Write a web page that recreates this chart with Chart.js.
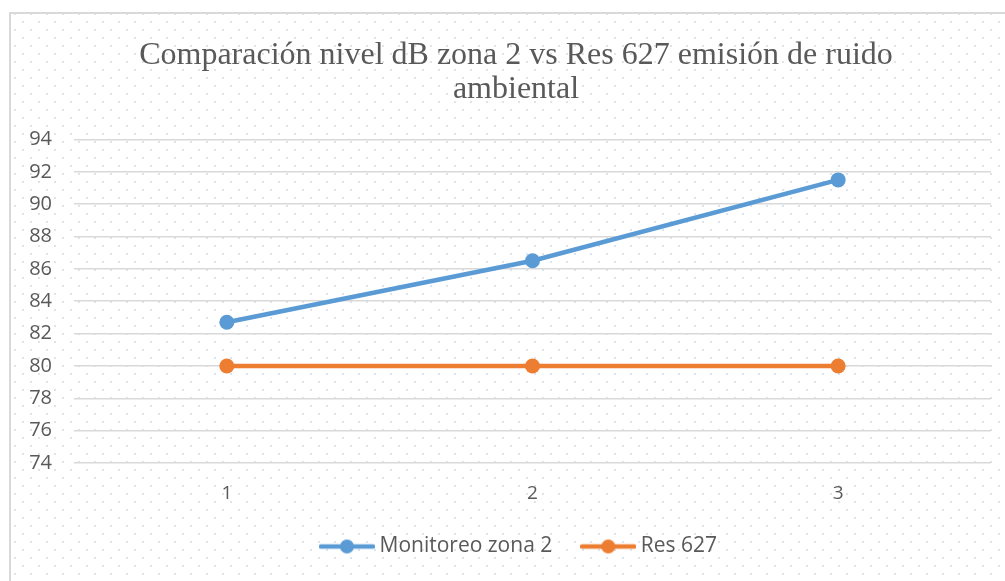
<!DOCTYPE html>
<html>
<head>
<meta charset="utf-8">
<script src="https://cdn.jsdelivr.net/npm/chart.js@4.4.1/dist/chart.umd.min.js"></script>
<style>
html,body{margin:0;padding:0;background:#fff;overflow:hidden;width:1005px;height:581px;}
#wrap{position:absolute;left:0;top:0;width:1030px;height:581px;}
</style>
</head>
<body>
<div id="wrap"><canvas id="c" width="1030" height="581"></canvas></div>
<script>
const categories = ["1", "2", "3"];
const monitoreoZona2 = [82.7, 86.5, 91.5];
const res627 = [80, 80, 80];
const titleLines = ["Comparación nivel dB zona 2 vs Res 627 emisión de ruido", "ambiental"];
const seriesNames = ["Monitoreo zona 2", "Res 627"];
const yMin = 74, yMax = 94, yStep = 2;

const BLUE = "#5B9BD5", ORANGE = "#ED7D31", TEXT = "#595959";

function legendMarker(color) {
  const c = document.createElement("canvas");
  c.width = 56; c.height = 16;
  const g = c.getContext("2d");
  g.strokeStyle = color; g.lineWidth = 4.5; g.lineCap = "round";
  g.beginPath(); g.moveTo(2, 8); g.lineTo(54, 8); g.stroke();
  g.fillStyle = color;
  g.beginPath(); g.arc(28, 8, 7, 0, Math.PI * 2); g.fill();
  return c;
}

const bgPlugin = {
  id: "bg",
  beforeDraw(chart) {
    const ctx = chart.ctx;
    const W = chart.width, H = chart.height;
    ctx.save();
    ctx.fillStyle = "#ffffff";
    ctx.fillRect(0, 0, W, H);
    ctx.fillStyle = "#dbe5f1";
    for (let y = 13, k = 0; y < H; y += 8, k++) {
      const x0 = (k % 2 === 0) ? 14 : 6;
      for (let x = x0; x < W; x += 16) {
        if (x < 11) continue;
        ctx.fillRect(x, y, 2, 2);
      }
    }
    ctx.fillStyle = "#d9d9d9";
    ctx.fillRect(9, 12, 2, H - 12);
    ctx.fillRect(9, 12, W - 9, 2);
    ctx.restore();
  }
};

const legendShift = {
  id: "legendShift",
  afterLayout(chart) {
    if (chart.legend) { chart.legend.left += 5; chart.legend.right += 5; }
  }
};

new Chart(document.getElementById("c"), {
  type: "line",
  data: {
    labels: categories,
    datasets: [
      {
        label: seriesNames[0],
        data: monitoreoZona2,
        borderColor: BLUE, backgroundColor: BLUE,
        borderWidth: 4.5, pointRadius: 7.5, pointBackgroundColor: BLUE,
        pointBorderWidth: 0, pointStyle: "circle", fill: false, tension: 0
      },
      {
        label: seriesNames[1],
        data: res627,
        borderColor: ORANGE, backgroundColor: ORANGE,
        borderWidth: 4.5, pointRadius: 7.5, pointBackgroundColor: ORANGE,
        pointBorderWidth: 0, pointStyle: "circle", fill: false, tension: 0
      }
    ]
  },
  options: {
    responsive: false,
    animation: false,
    devicePixelRatio: 1,
    layout: { padding: { left: 11, right: 9, top: 0, bottom: 14 } },
    plugins: {
      tooltip: { enabled: false },
      title: {
        display: true,
        text: titleLines,
        color: TEXT,
        font: { family: "'Liberation Serif', 'Times New Roman', serif", size: 32, weight: "normal", lineHeight: 1.07 },
        padding: { top: 38, bottom: 33 }
      },
      legend: {
        position: "bottom",
        labels: {
          color: TEXT,
          font: { family: "'Open Sans', sans-serif", size: 21 },
          usePointStyle: true,
          pointStyleWidth: 44,
          padding: 34,
          generateLabels(chart) {
            return chart.data.datasets.map((ds, i) => ({
              text: ds.label,
              pointStyle: legendMarker(ds.borderColor),
              fillStyle: ds.borderColor,
              strokeStyle: ds.borderColor,
              lineWidth: 0,
              fontColor: TEXT,
              hidden: false,
              datasetIndex: i
            }));
          }
        }
      }
    },
    scales: {
      x: {
        type: "category",
        offset: true,
        grid: { display: false, drawTicks: false },
        border: { display: false },
        ticks: { color: TEXT, font: { family: "'Open Sans', sans-serif", size: 19 }, padding: 19 },
        afterFit(scale) { scale.height = 39; }
      },
      y: {
        position: "left",
        min: yMin, max: yMax,
        ticks: { stepSize: yStep, color: TEXT, font: { family: "'Open Sans', sans-serif", size: 20 }, padding: 22 },
        grid: { color: "#d9d9d9", lineWidth: 1.5, drawTicks: false },
        border: { display: false },
        afterFit(scale) { scale.width = 63; }
      },
      yRight: {
        position: "right",
        min: yMin, max: yMax,
        display: true,
        ticks: { display: false },
        grid: { display: false, drawTicks: false },
        border: { display: false },
        afterFit(scale) { scale.width = 30; }
      }
    }
  },
  plugins: [bgPlugin, legendShift]
});
</script>
</body>
</html>
